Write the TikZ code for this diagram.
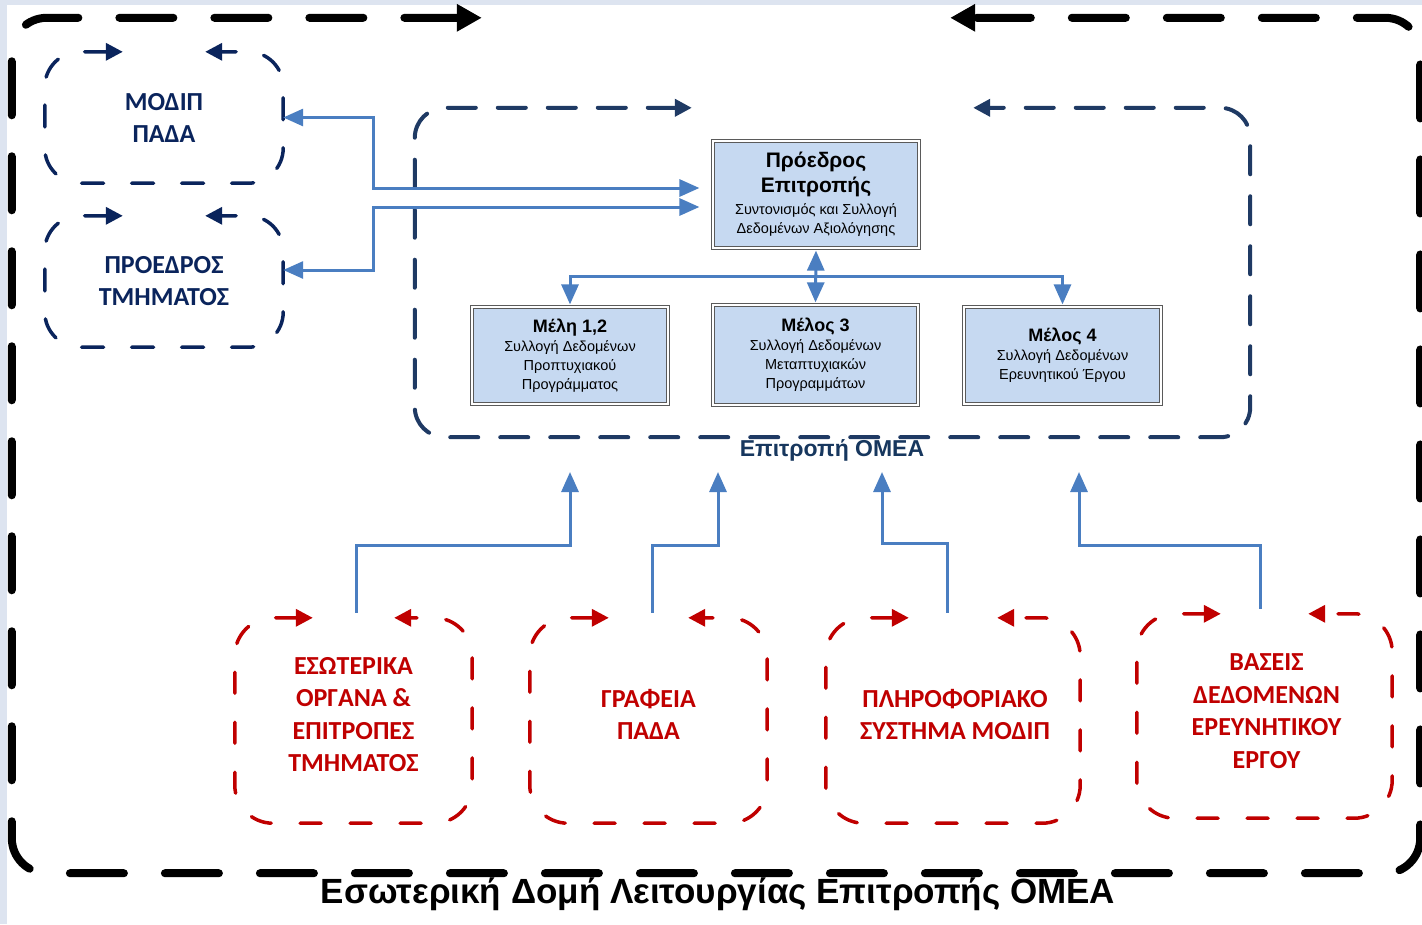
\documentclass[tikz,border=0pt]{standalone}
\usepackage{fontspec}
\setmainfont{Liberation Sans}
\newfontfamily\capsfont{Carlito}
\usetikzlibrary{arrows.meta,calc}

\definecolor{linkblue}{RGB}{74,126,193}
\definecolor{omeanavy}{RGB}{31,58,100}
\definecolor{deepnavy}{RGB}{10,36,92}
\definecolor{omeatext}{RGB}{23,55,94}
\definecolor{redc}{RGB}{192,0,0}
\definecolor{boxfill}{RGB}{198,217,241}
\definecolor{boxgray}{RGB}{90,90,90}
\definecolor{stripbg}{RGB}{221,228,240}

\newcommand{\headsize}{\bfseries\fontsize{21}{24}\selectfont}
\newcommand{\memhead}{\bfseries\fontsize{18}{21}\selectfont}
\newcommand{\gapframe}[3]{\draw[#1] ([xshift=#3]#2.north west) -- (#2.north west) -- (#2.south west)
  -- (#2.south east) -- (#2.north east) -- ([xshift=-#3]#2.north east);}

\begin{document}
\begin{tikzpicture}[x=1pt,y=-1pt,
link/.style={draw=linkblue,line width=3pt,>={Triangle[length=20pt,width=17pt]}},
outerframe/.style={draw=black,line width=8pt,line cap=round,dash pattern=on 54pt off 41pt,
  rounded corners=35pt,<->,>={Triangle[length=25pt,width=26pt]}},
innerframe/.style={draw=omeanavy,line width=4pt,line cap=round,dash pattern=on 28pt off 22pt,
  rounded corners=30pt,<->,>={Triangle[length=17pt,width=17pt]}},
navyframe/.style={draw=deepnavy,line width=3.5pt,line cap=round,dash pattern=on 22pt off 28pt,
  rounded corners=35pt,<->,>={Triangle[length=17pt,width=17pt]}},
redframe/.style={draw=redc,line width=3.5pt,line cap=round,dash pattern=on 21pt off 29pt,
  rounded corners=38pt,<->,>={Triangle[length=17pt,width=17pt]}},
area/.style={inner sep=0pt,align=center},
navybox/.style={area,minimum width=238pt,minimum height=131pt,text=deepnavy,
  font=\capsfont\bfseries\fontsize{26}{32}\selectfont},
redbox/.style={area,minimum height=205pt},
redtext/.style={area,text=redc,font=\capsfont\bfseries\fontsize{26}{32.5}\selectfont},
infobox/.style={area,draw=boxgray,double=white,double distance=1.5pt,line width=1.2pt,
  fill=boxfill,font=\fontsize{14.5}{19}\selectfont}]

\useasboundingbox (0,0) rectangle (1422,924);
\fill[stripbg] (0,0) rectangle (1422,924);
\fill[white] (7,5) rectangle (1422,924);

\node[area,minimum width=1408pt,minimum height=855pt] (outer) at (716,445.5) {};
\node[area,minimum width=835pt,minimum height=329pt] (omea) at (832.5,272.5) {};
\node[anchor=base,text=omeatext,font=\bfseries\fontsize{23}{27}\selectfont] (omealabel) at (832,456) {Επιτροπή ΟΜΕΑ};
\node[anchor=base,font=\bfseries\fontsize{35}{40}\selectfont] (title) at (718,903) {Εσωτερική Δομή Λειτουργίας Επιτροπής ΟΜΕΑ};

\node[navybox] (modip) at (164,117.5) {ΜΟΔΙΠ\\ΠΑΔΑ};
\node[navybox] (proedros) at (164,281.5) {ΠΡΟΕΔΡΟΣ\\ΤΜΗΜΑΤΟΣ};

\node[infobox,minimum width=206pt,minimum height=107pt] (pres) at (816,194.5)
  {{\headsize Πρόεδρος}\\[4pt]{\headsize Επιτροπής}\\[3pt]Συντονισμός και Συλλογή\\Δεδομένων Αξιολόγησης};
\node[infobox,minimum width=196pt,minimum height=97pt] (m12) at (570,355.5)
  {{\memhead Μέλη 1,2}\\Συλλογή Δεδομένων\\Προπτυχιακού\\Προγράμματος};
\node[infobox,minimum width=205pt,minimum height=100pt] (m3) at (815.5,355)
  {{\memhead Μέλος 3}\\Συλλογή Δεδομένων\\Μεταπτυχιακών\\Προγραμμάτων};
\node[infobox,minimum width=197pt,minimum height=97pt] (m4) at (1062.5,355.5)
  {{\memhead Μέλος 4}\\Συλλογή Δεδομένων\\Ερευνητικού Έργου};

\node[redbox,minimum width=237pt] (esot) at (353.5,720.5) {};
\node[redbox,minimum width=237pt] (graf) at (648.5,720.5) {};
\node[redbox,minimum width=254pt] (plir) at (953,720.5) {};
\node[redbox,minimum width=255pt,minimum height=204pt] (vaseis) at (1264.5,716) {};
\node[redtext] (esottext) at ([yshift=6pt]esot) {ΕΣΩΤΕΡΙΚΑ\\ΟΡΓΑΝΑ \&\\ΕΠΙΤΡΟΠΕΣ\\ΤΜΗΜΑΤΟΣ};
\node[redtext] (graftext) at ([yshift=6pt]graf) {ΓΡΑΦΕΙΑ\\ΠΑΔΑ};
\node[redtext] (plirtext) at ([yshift=6pt,xshift=2pt]plir) {ΠΛΗΡΟΦΟΡΙΑΚΟ\\ΣΥΣΤΗΜΑ ΜΟΔΙΠ};
\node[redtext] (vaseistext) at ([yshift=5pt,xshift=2pt]vaseis) {ΒΑΣΕΙΣ\\ΔΕΔΟΜΕΝΩΝ\\ΕΡΕΥΝΗΤΙΚΟΥ\\ΕΡΓΟΥ};

\gapframe{outerframe}{outer}{470pt}
\gapframe{innerframe}{omea}{277pt}
\foreach \n in {modip,proedros} {\gapframe{navyframe}{\n}{78pt}}
\foreach \n/\g in {esot/78pt,graf/79pt,plir/83pt,vaseis/84pt} {\gapframe{redframe}{\n}{\g}}

\draw[link,<->,shorten >=13pt] (modip.east) -- ++(90,0) |- ([yshift=6.5pt]pres.west);
\draw[link,<->,shorten >=13pt] ([yshift=11.5pt]proedros.east) -- ++(90,0) |- ([yshift=-12.5pt]pres.west);

\coordinate (bus) at (816,276);
\draw[link,<->,shorten <=2pt,shorten >=2pt] (pres.south) -- (m3.north);
\draw[link,->,shorten >=2pt] (bus) -| (m12.north);
\draw[link,->,shorten >=2pt] (bus) -| (m4.north);

\coordinate (in1) at (570,472);
\coordinate (in2) at (718,472);
\coordinate (in3) at (882,472);
\coordinate (in4) at (1079,472);
\foreach \b/\dx/\c/\t in {esot/2.5/in1/545,graf/3.5/in2/545,plir/-6/in3/543,vaseis/-4.5/in4/545}
  \draw[link,->] ([xshift=\dx pt,yshift=5pt]\b.north) |- (\c |- 0,\t) -- (\c);
\end{tikzpicture}
\end{document}
